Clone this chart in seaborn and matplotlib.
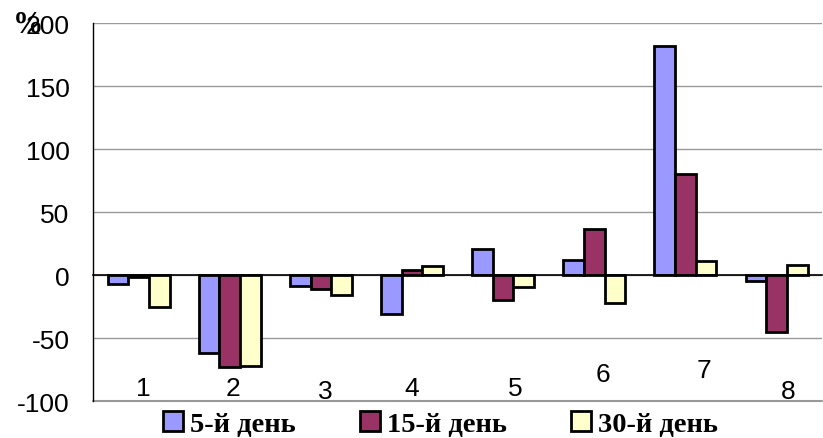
import matplotlib
matplotlib.use('Agg')
from matplotlib import pyplot as plt
import seaborn as sns
import pandas as pd

# Chart data
groups = ['1', '2', '3', '4', '5', '6', '7', '8']
series = ['5-й день', '15-й день', '30-й день']
day5 = [-7, -62, -8.5, -31, 20.5, 12, 182, -5]
day15 = [-1.5, -73, -11, 4, -20, 37, 80, -45]
day30 = [-25, -72, -16, 7, -9.5, -22.5, 11, 8]
y_ticks = [-100, -50, 0, 50, 100, 150, 200]

# Where the group numbers sit inside the plot (layout only)
label_dx = [0.05, 0.04, 0.05, 0.0, 0.13, 0.1, 0.2, 0.13]
label_y = [-89.5, -89.5, -92, -89.5, -89.5, -78.5, -75.5, -92]


def main():
    df = pd.DataFrame({
        'group': groups * 3,
        'series': [s for s in series for _ in groups],
        'value': day5 + day15 + day30,
    })

    palette = {'5-й день': '#9999FF', '15-й день': '#993366', '30-й день': '#FFFFCC'}

    sns.set_style('white')
    fig = plt.figure(figsize=(8.23, 4.39), dpi=100)
    ax = fig.add_axes([0.113, 0.084, 0.886, 0.861])

    sns.barplot(data=df, x='group', y='value', hue='series', palette=palette,
                width=0.68, edgecolor='black', linewidth=2.0, saturation=1,
                ax=ax, legend=True)

    ax.set_xlim(-0.5, 7.5)
    ax.set_ylim(-100, 200)
    ax.set_yticks(y_ticks)
    ax.set_yticklabels([str(t) for t in y_ticks], fontsize=19,
                       family='Liberation Sans', color='black')
    ax.tick_params(axis='y', direction='out', length=8, width=1, color='#999999', pad=9)
    ax.yaxis.grid(True, color='#999999', linewidth=1)
    ax.axhline(-100, color='#999999', linewidth=1.5, clip_on=False, zorder=0)
    ax.set_axisbelow(True)

    # zero line acts as the category axis
    ax.spines['bottom'].set_position(('data', 0))
    ax.spines['bottom'].set_color('black')
    ax.spines['bottom'].set_linewidth(1.2)
    ax.set_xticks([i + 0.5 for i in range(len(groups) - 1)])
    ax.set_xticklabels([])
    ax.tick_params(axis='x', direction='out', length=6, width=1, color='#999999')
    ax.spines['left'].set_color('black')
    ax.spines['left'].set_linewidth(1)
    ax.spines['top'].set_visible(False)
    ax.spines['right'].set_visible(False)
    ax.set_xlabel('')
    ax.set_ylabel('')

    for i, g in enumerate(groups):
        ax.text(i + label_dx[i], label_y[i], g, ha='center', va='center',
                fontsize=19, family='Liberation Sans', color='black')

    fig.text(0.034, 0.943, '%', fontsize=22, fontweight='bold', color='black',
             family='Liberation Serif', ha='center', va='center')

    handles, labels = ax.get_legend_handles_labels()
    ax.legend_.remove()
    fig.legend(handles, labels, loc='center', bbox_to_anchor=(0.535, 0.032),
               ncol=3, frameon=False, handlelength=0.7, handleheight=0.7,
               handletextpad=0.25, columnspacing=2.25, labelcolor='black',
               prop={'family': 'Liberation Serif', 'weight': 'bold', 'size': 20.5})

    plt.savefig('out.png', dpi=100)
    plt.clf()


if __name__ == "__main__":
    main()
